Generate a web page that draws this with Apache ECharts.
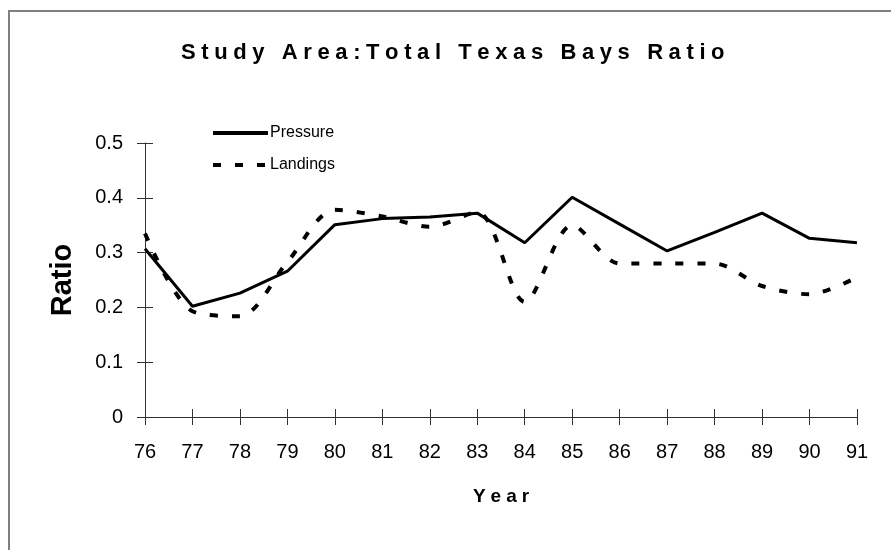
<!DOCTYPE html>
<html>
<head>
<meta charset="utf-8">
<script src="https://cdn.jsdelivr.net/npm/echarts@6/dist/echarts.min.js"></script>
<style>
  html, body { margin: 0; padding: 0; background: #fff; }
  #chart { width: 891px; height: 550px; }
</style>
</head>
<body>
<div id="chart"></div>
<script>
// values
let years = ['76', '77', '78', '79', '80', '81', '82', '83', '84', '85', '86', '87', '88', '89', '90', '91'];
let pressure = [0.307, 0.202, 0.226, 0.266, 0.351, 0.362, 0.365, 0.372, 0.318, 0.401, 0.352, 0.303, 0.337, 0.372, 0.326, 0.318];
let landings = [0.335, 0.193, 0.184, 0.283, 0.378, 0.366, 0.347, 0.374, 0.21, 0.35, 0.28, 0.28, 0.28, 0.239, 0.224, 0.255];
let yTicks = { min: 0, max: 0.5, interval: 0.1 };

let titleText = 'Study Area:Total Texas Bays Ratio';

// spread letters out like the original (no letter-spacing in canvas text)
function spaced(str, key) {
  return str.split('').map((c, i) => `{${i === str.length - 1 ? key + 'L' : key}|${c}}`).join('');
}

let chart = echarts.init(document.getElementById('chart'), null, { renderer: 'canvas' });

let font = 'Liberation Sans, Arial, sans-serif';

let options = {
  backgroundColor: '#ffffff',
  animation: false,
  title: {
    text: spaced(titleText, 't'),
    left: 181,
    top: 42,
    padding: 0,
    textStyle: {
      rich: {
        t: { fontFamily: font, fontSize: 22, fontWeight: 'bold', color: '#000', padding: [0, 5.6, 0, 0] },
        tL: { fontFamily: font, fontSize: 22, fontWeight: 'bold', color: '#000' },
      },
    },
  },
  legend: {
    orient: 'vertical',
    left: 211,
    top: 125,
    itemWidth: 55,
    itemHeight: 14,
    itemGap: 16,
    padding: 0,
    itemStyle: { opacity: 0 },
    lineStyle: { width: 4 },
    textStyle: { fontFamily: font, fontSize: 16, color: '#000', padding: [0, 0, 0, -3] },
    data: ['Pressure', 'Landings'],
  },
  graphic: [
    {
      type: 'rect',
      shape: { x: 9, y: 11, width: 1000, height: 1000 },
      style: { fill: 'none', stroke: '#808080', lineWidth: 2 },
      silent: true,
    },
  ],
  grid: { left: 145, right: 34, top: 143, bottom: 133 },
  xAxis: [
    {
      type: 'category',
      data: years,
      boundaryGap: false,
      name: spaced('Year', 'y'),
      nameLocation: 'middle',
      nameGap: 70,
      nameTextStyle: {
        rich: {
          y: { fontFamily: font, fontSize: 19, fontWeight: 'bold', color: '#000', padding: [0, 5, 0, 0] },
          yL: { fontFamily: font, fontSize: 19, fontWeight: 'bold', color: '#000' },
        },
      },
      axisLine: { show: true, lineStyle: { color: '#333', width: 1 } },
      axisTick: { show: true, length: 8, lineStyle: { color: '#333' } },
      axisLabel: { fontFamily: font, fontSize: 20, color: '#000', margin: 25 },
      splitLine: { show: false },
    },
    {
      type: 'category',
      data: years,
      boundaryGap: false,
      position: 'bottom',
      axisLine: { show: false },
      axisTick: { show: true, inside: true, length: 8, lineStyle: { color: '#333' } },
      axisLabel: { show: false },
      splitLine: { show: false },
    },
  ],
  yAxis: [
    {
      type: 'value',
      min: yTicks.min,
      max: yTicks.max,
      interval: yTicks.interval,
      name: 'Ratio',
      nameLocation: 'middle',
      nameGap: 68,
      nameTextStyle: { fontFamily: font, fontSize: 29, fontWeight: 'bold', color: '#000' },
      axisLine: { show: true, lineStyle: { color: '#333', width: 1 } },
      axisTick: { show: true, length: 8, lineStyle: { color: '#333' } },
      axisLabel: { fontFamily: font, fontSize: 20, color: '#000', margin: 22 },
      splitLine: { show: false },
    },
    {
      type: 'value',
      min: yTicks.min,
      max: yTicks.max,
      interval: yTicks.interval,
      position: 'left',
      axisLine: { show: false },
      axisTick: { show: true, inside: true, length: 8, lineStyle: { color: '#333' } },
      axisLabel: { show: false },
      splitLine: { show: false },
    },
  ],
  series: [
    {
      name: 'Pressure',
      type: 'line',
      data: pressure,
      symbol: 'none',
      lineStyle: { color: '#000', width: 3 },
      itemStyle: { color: '#000' },
    },
    {
      name: 'Landings',
      type: 'line',
      data: landings,
      symbol: 'none',
      smooth: 0.3,
      lineStyle: { color: '#000', width: 4, type: [8, 14] },
      itemStyle: { color: '#000' },
    },
  ],
};

chart.setOption(options);
</script>
</body>
</html>
